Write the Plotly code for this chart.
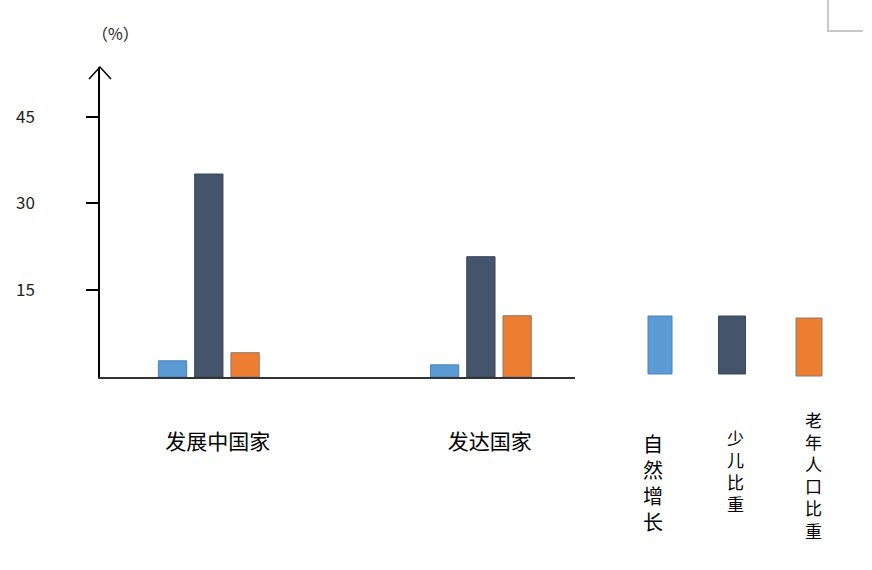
import plotly.graph_objects as go

# data
groups = ["发展中国家", "发达国家"]
series = ["自然增长", "少儿比重", "老年人口比重"]
natural_growth = [2.8, 2.1]
child_share = [35.1, 20.8]
elderly_share = [4.2, 10.6]
y_ticks = [15, 30, 45]

colors = ["#5b9bd5", "#44546a", "#ed7d31"]
edges = ["#4a80b8", "#3a4759", "#8a7a70"]
values = [natural_growth, child_share, elderly_share]

FONT = "Noto Sans CJK SC, Noto Sans, sans-serif"

# plot area in pixels: x 100..575, y 67..377
def px_x(p):
    return (p - 100) / 475

def px_y(p):
    return (377 - p) / 310

fig = go.Figure()
for name, vals, c, e in zip(series, values, colors, edges):
    fig.add_trace(go.Bar(x=groups, y=vals, name=name,
                         marker=dict(color=c, line=dict(color=e, width=1))))

shapes = []
# arrow head on y axis
shapes.append(dict(type="path", xref="paper", yref="paper",
                   path=f"M {px_x(89)} {px_y(79)} L {px_x(100)} {px_y(67)} L {px_x(111)} {px_y(79)}",
                   line=dict(color="black", width=1.5)))
# stray corner frame top-right
shapes.append(dict(type="path", xref="paper", yref="paper",
                   path=f"M {px_x(828)} {px_y(0)} L {px_x(828)} {px_y(31)} L {px_x(863)} {px_y(31)}",
                   line=dict(color="#c8c8c8", width=2)))

annotations = [dict(text="（%）", x=px_x(115), y=px_y(33), xref="paper", yref="paper",
                    xanchor="center", yanchor="middle", showarrow=False,
                    font=dict(size=16, color="#222", family=FONT))]

# legend: boxes with vertical text
legend_x = [660, 732, 809]
legend_w = [24, 27, 26]
legend_top = [316, 316, 318]
text_x = [653, 735, 813]
text_mid = [483, 470, 475]
text_size = [20, 17, 17]
for i, name in enumerate(series):
    shapes.append(dict(type="rect", xref="paper", yref="paper",
                       x0=px_x(legend_x[i] - legend_w[i] / 2), x1=px_x(legend_x[i] + legend_w[i] / 2),
                       y0=px_y(legend_top[i] + 58), y1=px_y(legend_top[i]),
                       fillcolor=colors[i], line=dict(color=edges[i], width=1)))
    annotations.append(dict(text="<br>".join(name), x=px_x(text_x[i]), y=px_y(text_mid[i]),
                            xref="paper", yref="paper", xanchor="center", yanchor="middle",
                            showarrow=False,
                            font=dict(size=text_size[i], color="black", family=FONT)))

fig.update_layout(
    width=872, height=570,
    margin=dict(l=100, r=297, t=67, b=193),
    paper_bgcolor="white", plot_bgcolor="white",
    showlegend=False,
    barmode="group", bargap=0.6, bargroupgap=0.22,
    shapes=shapes, annotations=annotations,
    font=dict(family=FONT, color="black"),
    xaxis=dict(type="category", range=[-0.40, 1.346], showline=True, linecolor="#333",
               linewidth=2, ticks="", showgrid=False, zeroline=False,
               tickfont=dict(size=21, color="black"), ticklabelstandoff=45,
               ticklabelshift=9),
    yaxis=dict(range=[0, 53.6], showline=True, linecolor="black", linewidth=1.5,
               tickvals=y_ticks, ticks="outside", ticklen=12, tickwidth=1.5, tickcolor="black",
               showgrid=False, zeroline=False, tickfont=dict(size=17, color="#222"),
               ticklabelstandoff=48),
)

fig.write_html("out.html", config={"displayModeBar": False},
               post_script="document.body.style.margin='0';")
